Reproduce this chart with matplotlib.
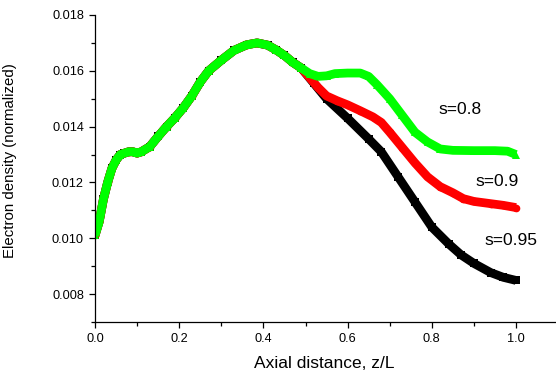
import matplotlib
matplotlib.use("Agg")
import matplotlib.pyplot as plt
import numpy as np
from matplotlib.ticker import MultipleLocator, FormatStrFormatter

plt.rcParams['font.family'] = ['Liberation Sans', 'DejaVu Sans']

# Shared initial part (all three curves coincide)
x_common = [0.0, 0.01, 0.02, 0.03, 0.04, 0.05, 0.06, 0.07, 0.08, 0.09, 0.10, 0.11,
            0.13, 0.15, 0.17, 0.19, 0.21, 0.23, 0.25, 0.27, 0.30, 0.33, 0.36, 0.385,
            0.41, 0.43, 0.45, 0.47, 0.49]
y_common = [0.0101, 0.0106, 0.0114, 0.0120, 0.0125, 0.0128, 0.0130, 0.01305, 0.0131, 0.0131,
            0.01305, 0.0131, 0.01328, 0.01365, 0.0140, 0.01432, 0.01468, 0.0151, 0.0156,
            0.0160, 0.01638, 0.01673, 0.01693, 0.0170, 0.01692, 0.01675, 0.01655, 0.0163, 0.0161]

# Tails after separation
x_s095 = [0.52, 0.55, 0.60, 0.65, 0.68, 0.72, 0.76, 0.80, 0.84, 0.87, 0.90, 0.94, 0.97, 1.0]
y_s095 = [0.01555, 0.0150, 0.0143, 0.01356, 0.0131, 0.0122, 0.0113, 0.0104, 0.0098, 0.0094,
          0.0091, 0.00877, 0.0086, 0.00849]

x_s09 = [0.51, 0.53, 0.55, 0.575, 0.60, 0.63, 0.66, 0.68, 0.70, 0.73, 0.76, 0.79, 0.82,
         0.85, 0.875, 0.90, 0.94, 0.97, 1.0]
y_s09 = [0.01575, 0.0154, 0.0151, 0.01493, 0.01478, 0.01457, 0.01435, 0.01415, 0.0138,
         0.01325, 0.0127, 0.0122, 0.01185, 0.01163, 0.01142, 0.01132, 0.01124, 0.01118, 0.0111]

x_s08 = [0.51, 0.53, 0.55, 0.57, 0.60, 0.63, 0.65, 0.67, 0.70, 0.73, 0.76, 0.79, 0.82,
         0.85, 0.90, 0.95, 0.98, 1.0]
y_s08 = [0.0159, 0.0158, 0.01582, 0.0159, 0.01592, 0.01592, 0.0158, 0.0155, 0.0150, 0.0144,
         0.0138, 0.01345, 0.0132, 0.01315, 0.01314, 0.01314, 0.01312, 0.0130]

labels = ["s=0.8", "s=0.9", "s=0.95"]
label_pos = [(0.867, 0.0146), (0.955, 0.01203), (0.988, 0.00992)]

fig = plt.figure(figsize=(5.56, 3.78), dpi=100)
ax = fig.add_axes([95/556, 1-322/378, 461/556, 307/378])

series = [
    (x_s095, y_s095, 'black', 's'),
    (x_s09, y_s09, '#ff0000', 'o'),
    (x_s08, y_s08, '#00ff00', '^'),
]
for xs, ys, c, m in series:
    xx = x_common + xs
    yy = y_common + ys
    ax.plot(xx, yy, color=c, lw=6.3, marker=m, ms=5.5, markeredgewidth=0,
            solid_capstyle='butt', solid_joinstyle='round')

for t, (lx, ly) in zip(labels, label_pos):
    ax.text(lx, ly, t, fontsize=12.5, ha='center', va='center')

ax.set_xlim(0, 461/421)
ax.set_ylim(0.007, 0.018)
ax.yaxis.set_major_locator(MultipleLocator(0.002))
ax.yaxis.set_minor_locator(MultipleLocator(0.001))
ax.set_xticks([0.0, 0.2, 0.4, 0.6, 0.8, 1.0])
ax.set_xticks([0.1, 0.3, 0.5, 0.7, 0.9], minor=True)
ax.xaxis.set_major_formatter(FormatStrFormatter('%.1f'))
ax.yaxis.set_major_formatter(FormatStrFormatter('%.3f'))

for s in ['top', 'right']:
    ax.spines[s].set_visible(False)
for s in ['left', 'bottom']:
    ax.spines[s].set_linewidth(0.9)

ax.tick_params(which='major', direction='out', length=4.5, width=0.9, labelsize=9.2, pad=3.5)
ax.tick_params(which='minor', direction='out', length=3, width=0.9)

ax.set_xlabel("Axial distance, z/L", fontsize=12.5)
ax.set_ylabel("Electron density (normalized)", fontsize=10.8)
ax.xaxis.set_label_coords(0.4978, -0.112)
ax.yaxis.set_label_coords(-0.169, 0.526)

fig.savefig("out.png", dpi=100)
